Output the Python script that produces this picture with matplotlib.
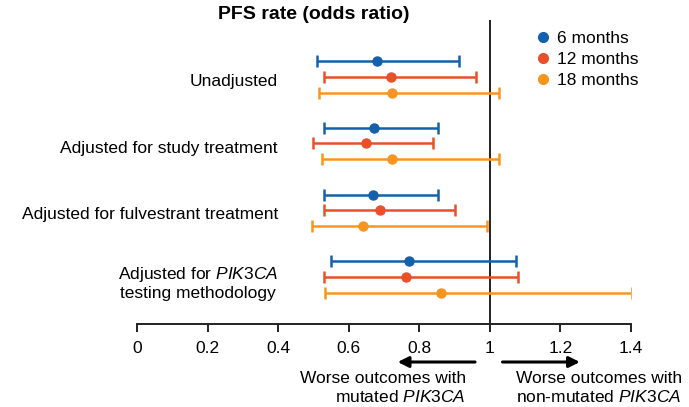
import matplotlib.pyplot as plt
from matplotlib.lines import Line2D

plt.rcParams['font.family'] = ['Liberation Sans', 'DejaVu Sans']
plt.rcParams['mathtext.fontset'] = 'custom'
plt.rcParams['mathtext.it'] = 'Liberation Sans:italic'
plt.rcParams['mathtext.rm'] = 'Liberation Sans'

# odds ratios with 95% CI per adjustment model
models = ['Unadjusted', 'Adjusted for study treatment',
          'Adjusted for fulvestrant treatment',
          'Adjusted for $\\it{PIK3CA}$\ntesting methodology']
periods = ['6 months', '12 months', '18 months']
colors = ['#1560aa', '#e9502a', '#f7951f']

or_6 = [0.68, 0.673, 0.67, 0.771]
lo_6 = [0.51, 0.53, 0.53, 0.55]
hi_6 = [0.912, 0.853, 0.852, 1.074]

or_12 = [0.721, 0.65, 0.69, 0.761]
lo_12 = [0.53, 0.50, 0.529, 0.529]
hi_12 = [0.96, 0.84, 0.90, 1.079]

or_18 = [0.724, 0.723, 0.64, 0.863]
lo_18 = [0.516, 0.523, 0.495, 0.533]
hi_18 = [1.025, 1.025, 0.992, 1.403]

xticks = [0, 0.2, 0.4, 0.6, 0.8, 1, 1.2, 1.4]
xticklabels = ['0', '0.2', '0.4', '0.6', '0.8', '1', '1.2', '1.4']

FS = 12.5

fig = plt.figure(figsize=(6.89, 4.07), dpi=100)
ax = fig.add_axes([0.1988, 0.2039, 0.717, 0.747])

offsets = [-0.23, 0.0, 0.24]
series = [(or_6, lo_6, hi_6), (or_12, lo_12, hi_12), (or_18, lo_18, hi_18)]
for k, (est, lo, hi) in enumerate(series):
    ys = [i + offsets[k] for i in range(len(models))]
    err = [[e - l for e, l in zip(est, lo)], [h - e for e, h in zip(est, hi)]]
    ax.errorbar(est, ys, xerr=err, fmt='o', color=colors[k], ms=6.5,
                elinewidth=1.8, capsize=4.5, capthick=1.8)

ax.axvline(1, color='#222222', lw=1.4, zorder=0)

ax.set_xlim(0, 1.4)
ax.set_ylim(3.71, -0.85)
ax.set_xticks(xticks)
ax.set_xticklabels(xticklabels, fontsize=FS)
ax.set_yticks([i + 0.05 for i in range(len(models))])
ax.set_yticklabels(models, fontsize=FS, multialignment='center')
# labels sit inside the plotting area, left of the intervals
ax.tick_params(axis='y', length=0, pad=-101.5)
ax.tick_params(axis='x', length=6, width=1.4, pad=6, color='#222222')
for s in ['top', 'right', 'left']:
    ax.spines[s].set_visible(False)
ax.spines['bottom'].set_linewidth(1.4)
ax.spines['bottom'].set_color('#222222')
ax.spines['bottom'].set_bounds(0, 1.4)

fig.text(0.455, 0.965, 'PFS rate (odds ratio)', fontsize=14,
         fontweight='bold', ha='center', va='center')

handles = [Line2D([], [], ls='', marker='o', ms=7, color=c) for c in colors]
fig.legend(handles, periods, loc='upper left', bbox_to_anchor=(0.781, 0.925),
           frameon=False, fontsize=FS, handlelength=0.6, handletextpad=0.5,
           labelspacing=0.35, borderpad=0, borderaxespad=0)

# direction arrows under the axis
arrow = dict(arrowstyle='-|>', color='black', lw=2.2, mutation_scale=16)
ax.annotate('', xy=(0.731, -0.125), xytext=(0.966, -0.125),
            xycoords=('data', 'axes fraction'), arrowprops=arrow,
            annotation_clip=False)
ax.annotate('', xy=(1.263, -0.125), xytext=(1.028, -0.125),
            xycoords=('data', 'axes fraction'), arrowprops=arrow,
            annotation_clip=False)
ax.text(0.932, -0.155, 'Worse outcomes with\nmutated $\\it{PIK3CA}$',
        transform=ax.get_xaxis_transform(), ha='right', va='top',
        fontsize=FS, multialignment='right', linespacing=1.2)
ax.text(1.075, -0.155, 'Worse outcomes with\nnon-mutated $\\it{PIK3CA}$',
        transform=ax.get_xaxis_transform(), ha='left', va='top',
        fontsize=FS, multialignment='left', linespacing=1.2)

fig.savefig('out.png', dpi=100)
